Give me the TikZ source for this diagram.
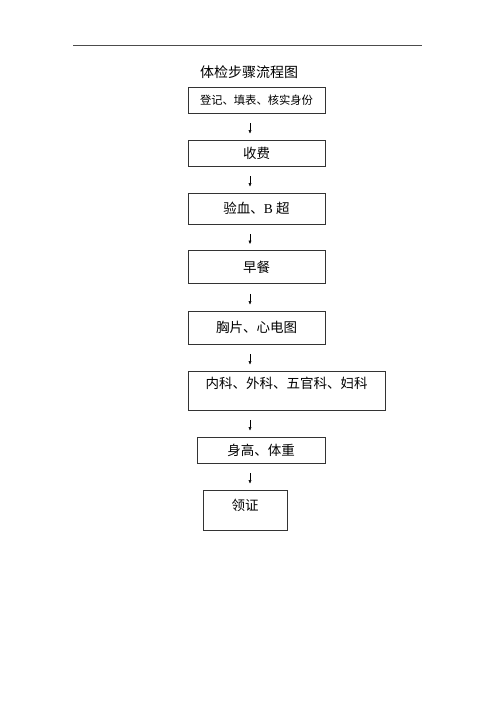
\documentclass[tikz,border=0pt]{standalone}
\usepackage{fontspec}
\setmainfont{Liberation Serif}
\newfontfamily\cjk{Noto Sans CJK SC}
\usepackage{tikz}
\usetikzlibrary{arrows.meta, % for small arrow tips
                positioning}

\begin{document}
\begin{tikzpicture}[x=1pt, y=-1pt,
                    stepbox/.style={draw=black!80, line width=0.6pt, inner sep=0, font=\cjk\fontsize{13.5pt}{15pt}\selectfont},
                    stepboxTop/.style={stepbox, text depth=#1},
                    arrow/.style={-{Latex[length=3.5pt, width=3pt]}, line width=0.5pt, shorten <=10pt, shorten >=6pt},
                    title/.style={font=\cjk\fontsize{14pt}{16pt}\selectfont}
                    ]
    \useasboundingbox (0,0) rectangle (500,708);
    %header rule
    \draw[black!70, line width=0.6pt] (73,45) -- (422,45);
    %title
    \node[title] at (249,72) (title) {体检步骤流程图};
    %step nodes
    \node[stepbox, minimum width=137, minimum height=26, font=\cjk\fontsize{11.3pt}{13pt}\selectfont] at (256.5,100) (reg) {登记、填表、核实身份};
    \node[stepbox, minimum width=137, minimum height=26] at (256.5,153)   (fee) {收费};
    \node[stepbox, minimum width=137, minimum height=31] at (256.5,208.5) (blood) {验血、{\rmfamily B} 超};
    \node[stepbox, minimum width=137, minimum height=33] at (256.5,267)   (meal) {早餐};
    \node[stepbox, minimum width=137, minimum height=33] at (256.5,327.5) (xray) {胸片、心电图};
    \node[stepboxTop=15pt, minimum width=197, minimum height=39] at (286.5,390.5) (clinic) {内科、外科、五官科、妇科};
    \node[stepbox, minimum width=128, minimum height=26] at (261,450)     (body) {身高、体重};
    \node[stepboxTop=10pt, minimum width=84, minimum height=40] at (245,510) (cert) {领证};

    \coordinate (ax) at (250,0);
    \draw[arrow] (reg.south -| ax)    -- (fee.north -| ax);
    \draw[arrow] (fee.south -| ax)    -- (blood.north -| ax);
    \draw[arrow] (blood.south -| ax)  -- (meal.north -| ax);
    \draw[arrow] (meal.south -| ax)   -- (xray.north -| ax);
    \draw[arrow] (xray.south -| ax)   -- (clinic.north -| ax);
    \draw[arrow] (clinic.south -| ax) -- (body.north -| ax);
    \draw[arrow] (body.south -| ax)   -- (cert.north -| ax);

\end{tikzpicture}
\end{document}
